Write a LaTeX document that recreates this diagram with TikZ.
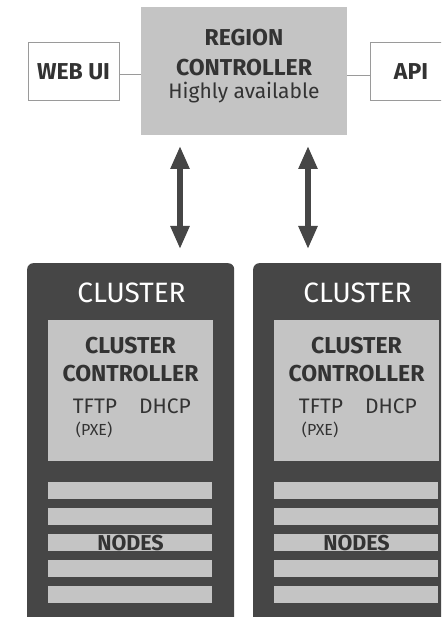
\documentclass[tikz,border=0pt]{standalone}
\usepackage{fontspec}
\setmainfont{Fira Sans}
\usetikzlibrary{arrows.meta}
\definecolor{lgray}{HTML}{C4C4C4}
\definecolor{dgray}{HTML}{464646}
\definecolor{tgray}{HTML}{333333}
\definecolor{bgray}{HTML}{9A9A9A}
\begin{document}
\begin{tikzpicture}[x=1pt,y=-1pt,
  box/.style={draw=none,fill=lgray,inner sep=0pt,rectangle},
  wbox/.style={draw=bgray,line width=1pt,fill=white,inner sep=0pt,minimum width=91pt,minimum height=58pt},
  clus/.style={fill=dgray,rounded corners=6pt,inner sep=0pt,minimum width=207pt,minimum height=380pt,anchor=north west},
  strip/.style={fill=lgray,inner sep=0pt,minimum width=164pt,minimum height=17pt,anchor=north west},
  btxt/.style={font=\bfseries\fontsize{23}{25}\selectfont,text=tgray,anchor=base,inner sep=0pt},
  ntxt/.style={font=\bfseries\fontsize{21.5}{23}\selectfont,text=tgray,anchor=base,inner sep=0pt},
  rtxt/.style={font=\fontsize{21}{23}\selectfont,text=tgray,anchor=base,inner sep=0pt},
  stxt/.style={font=\fontsize{16}{18}\selectfont,text=tgray,anchor=base,inner sep=0pt},
  ctxt/.style={font=\fontsize{28}{30}\selectfont,text=white,anchor=base,inner sep=0pt},
  link/.style={draw=bgray,line width=1pt},
  dbl/.style={draw=dgray,line width=5.5pt,{Triangle[width=18pt,length=23pt]}-{Triangle[width=18pt,length=23pt]}}
]
\useasboundingbox (0,0) rectangle (441,617);
\clip (0,0) rectangle (441,617);
% top row
\node[box,minimum width=206pt,minimum height=128pt] (region) at (244,71) {};
\node[btxt] (rl1) at (244,46) {REGION};
\node[btxt] (rl2) at (244,76) {CONTROLLER};
\node[rtxt] (rl3) at (244,99) {Highly available};
\node[wbox] (webui) at (73.5,72) {};
\node[btxt] (webuit) at (73.5,80) {WEB UI};
\node[wbox,minimum width=82pt] (api) at (411,72) {};
\node[btxt] (apit) at (411,80) {API};
\draw[link] (webui.east |- 0,75) -- (region.west |- 0,75);
\draw[link] (region.east |- 0,76) -- (api.west |- 0,76);
% arrows
\coordinate (a1t) at (180,146);
\coordinate (a1b) at (180,249);
\coordinate (a2t) at (308,146);
\coordinate (a2b) at (308,249);
\draw[dbl] (a1t) -- (a1b);
\draw[dbl] (a2t) -- (a2b);
% clusters
\foreach \n/\x in {L/27,R/253}{
  \node[clus] (clus\n) at (\x,263) {};
  \node[box,minimum width=165pt,minimum height=141pt,anchor=north west] (cc\n) at (\x+21,320) {};
  \node[ctxt] (ct\n) at (\x+104.5,302) {CLUSTER};
  \node[btxt] (cc1\n) at (\x+103.5,353) {CLUSTER};
  \node[btxt] (cc2\n) at (\x+103.5,381) {CONTROLLER};
  \node[rtxt] (tftp\n) at (\x+68,413) {TFTP};
  \node[rtxt] (dhcp\n) at (\x+138,413) {DHCP};
  \node[stxt] (pxe\n) at (\x+67,435) {(PXE)};
  \foreach \i/\y in {1/482,2/508,3/534,4/560,5/586}{
    \node[strip] (s\n\i) at (\x+21,\y) {};
  }
  \node[ntxt] (nodes\n) at (\x+103.5,550) {NODES};
}
\end{tikzpicture}
\end{document}
